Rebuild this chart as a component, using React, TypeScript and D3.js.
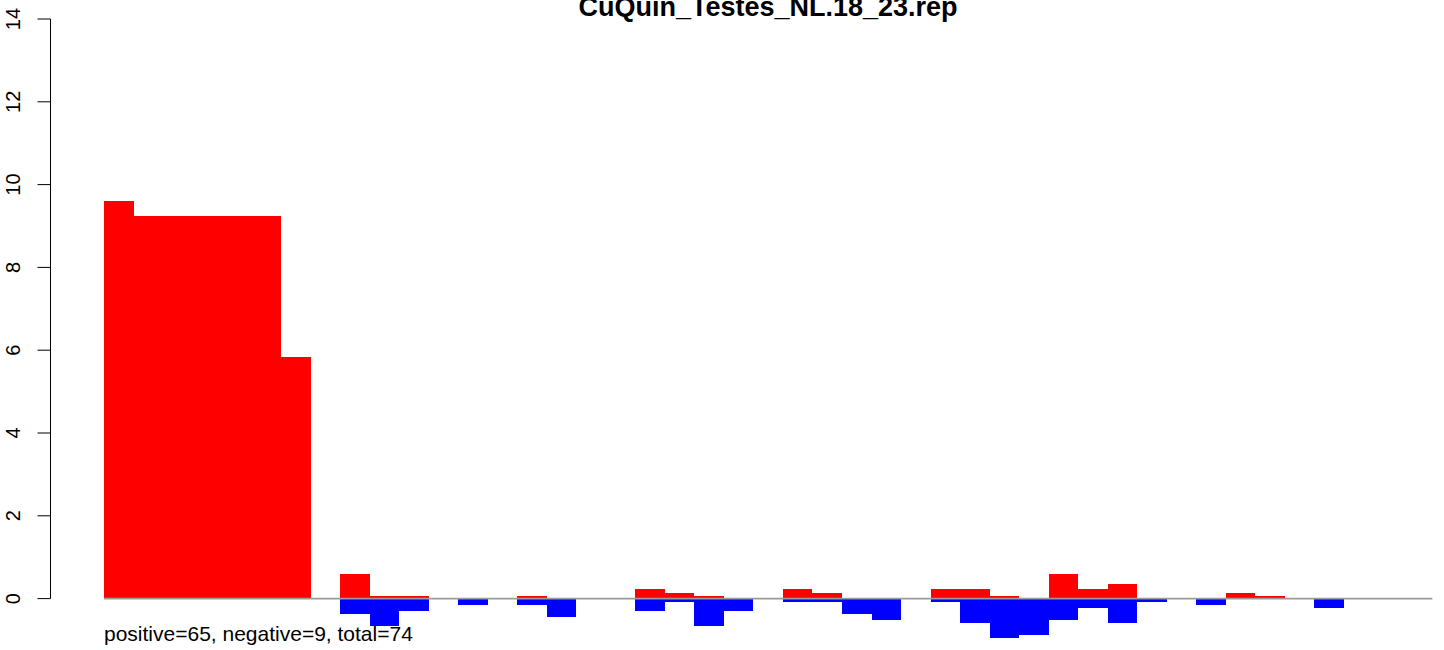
import React from "react";
import * as d3 from "d3";

const title = "CuQuin_Testes_NL.18_23.rep";
const footer = "positive=65, negative=9, total=74";
const yTicks = [0, 2, 4, 6, 8, 10, 12, 14];

const positiveValues = [
  9.61, 9.24, 9.24, 9.24, 9.24, 9.24, 5.84, 0, 0.6, 0.07,
  0.07, 0, 0, 0, 0.07, 0, 0, 0, 0.22, 0.14,
  0.07, 0, 0, 0.22, 0.14, 0, 0, 0, 0.22, 0.22,
  0.07, 0, 0.6, 0.22, 0.36, 0, 0, 0, 0.14, 0.07,
  0, 0, 0, 0, 0,
];
const negativeValues = [
  0, 0, 0, 0, 0, 0, 0, 0, 0.37, 0.67,
  0.31, 0, 0.16, 0, 0.16, 0.45, 0, 0, 0.31, 0.09,
  0.67, 0.31, 0, 0.09, 0.09, 0.38, 0.52, 0, 0.09, 0.6,
  0.96, 0.88, 0.52, 0.23, 0.6, 0.09, 0, 0.16, 0, 0,
  0, 0.23, 0, 0, 0,
];

export default function App() {
  const W = 1444;
  const H = 650;
  const n = positiveValues.length;
  const x = d3.scaleLinear().domain([0, n]).range([104, 1432.4]);
  const y = d3.scaleLinear().domain([0, 14]).range([598.6, 19]);
  const font = "'Liberation Sans', Arial, Helvetica, sans-serif";

  return (
    <svg
      width={W}
      height={H}
      style={{ position: "absolute", left: 0, top: 0, background: "#fff" }}
      fontFamily={font}
    >
      {positiveValues.map((v, i) =>
        v > 0 ? (
          <rect
            key={"p" + i}
            x={x(i)}
            y={y(v)}
            width={x(i + 1) - x(i)}
            height={y(0) - y(v)}
            fill="#ff0000"
            shapeRendering="crispEdges"
          />
        ) : null
      )}
      {negativeValues.map((v, i) =>
        v > 0 ? (
          <rect
            key={"n" + i}
            x={x(i)}
            y={y(0)}
            width={x(i + 1) - x(i)}
            height={y(0) - y(v)}
            fill="#0000ff"
            shapeRendering="crispEdges"
          />
        ) : null
      )}
      <line
        x1={x(0)}
        x2={x(n)}
        y1={y(0)}
        y2={y(0)}
        stroke="#9a9a9a"
        strokeWidth={1.6}
      />
      <line
        x1={50.5}
        x2={50.5}
        y1={y(0)}
        y2={y(14)}
        stroke="#000"
        strokeWidth={1}
      />
      {yTicks.map((t) => (
        <g key={t}>
          <line x1={37.5} x2={50.5} y1={y(t)} y2={y(t)} stroke="#000" strokeWidth={1} />
          <text
            transform={`translate(20,${y(t)}) rotate(-90)`}
            textAnchor="middle"
            fontSize={20}
            fill="#000"
          >
            {t}
          </text>
        </g>
      ))}
      <text x={768} y={16} textAnchor="middle" fontWeight="bold" fontSize={27} fill="#000">
        {title}
      </text>
      <text x={104} y={641} fontSize={21} fill="#000">
        {footer}
      </text>
    </svg>
  );
}
